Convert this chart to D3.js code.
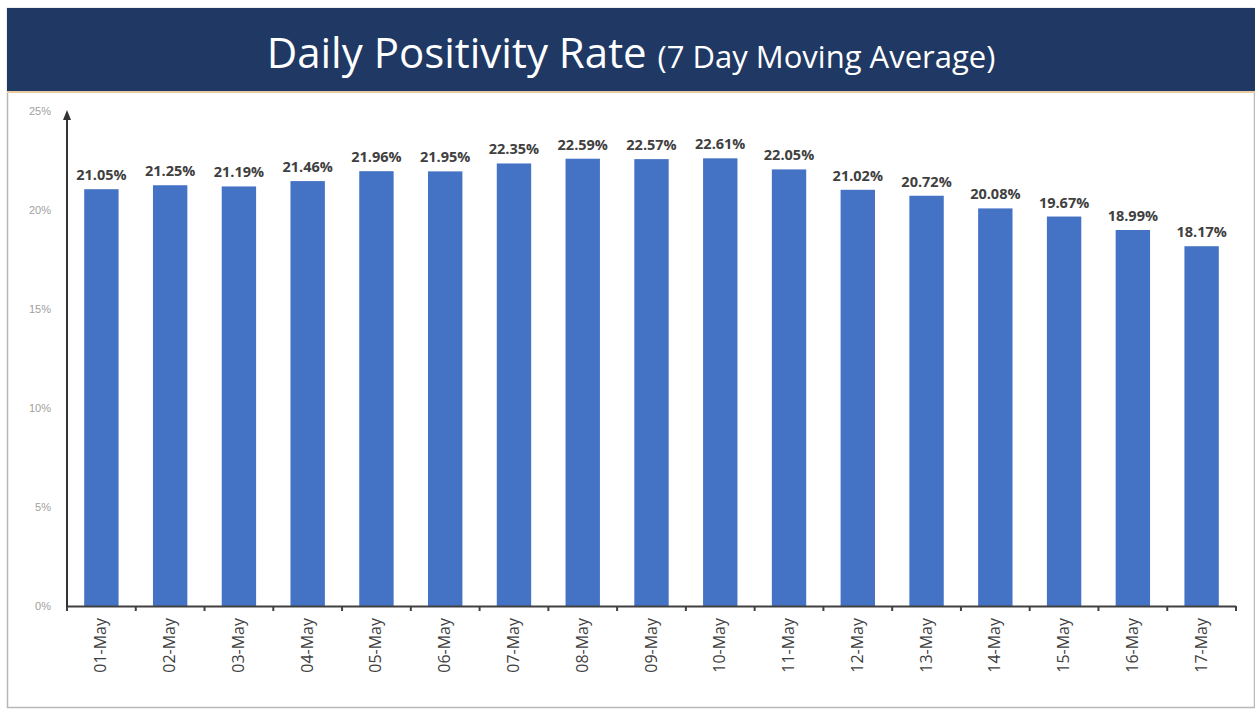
<!DOCTYPE html>
<html><head><meta charset="utf-8">
<script src="https://cdn.jsdelivr.net/npm/d3@7"></script>
<style>body{margin:0;background:#fff}svg{display:block}</style>
</head><body>
<script>
const categories = ["01-May","02-May","03-May","04-May","05-May","06-May","07-May","08-May","09-May","10-May","11-May","12-May","13-May","14-May","15-May","16-May","17-May"];
const values = [21.05,21.25,21.19,21.46,21.96,21.95,22.35,22.59,22.57,22.61,22.05,21.02,20.72,20.08,19.67,18.99,18.17];
const yTicks = [0,5,10,15,20,25];

const W = 1255, H = 709;
const svg = d3.select("body").append("svg").attr("width", W).attr("height", H);

// frame
svg.append("rect").attr("x",7.5).attr("y",8.5).attr("width",W-8).attr("height",H-10)
  .attr("fill","#fff").attr("stroke","#b8b8b8").attr("stroke-width",1.5);
// header
svg.append("rect").attr("x",7).attr("y",8).attr("width",W-7).attr("height",83).attr("fill","#1f3864");
svg.append("rect").attr("x",7).attr("y",91).attr("width",W-7).attr("height",2).attr("fill","#e8c9a0");
const t = svg.append("text").attr("x",631).attr("y",68).attr("text-anchor","middle")
  .attr("fill","#fff").style("font-family","'Open Sans', 'Liberation Sans', sans-serif");
t.append("tspan").attr("font-size",42).text("Daily Positivity Rate ");
t.append("tspan").attr("font-size",31).text("(7 Day Moving Average)");

const x = d3.scaleBand().domain(categories).range([67,1236]).paddingInner(0.5).paddingOuter(0.25);
const y = d3.scaleLinear().domain([0,25]).range([606,111]);

// y labels
svg.append("g").selectAll("text").data(yTicks).join("text")
  .attr("x",51).attr("y",d=>y(d)+4).attr("text-anchor","end")
  .attr("font-size",11).attr("fill","#a0a0a0").style("font-family","'Liberation Sans', sans-serif")
  .text(d=>d+"%");

// bars
svg.append("g").selectAll("rect").data(values).join("rect")
  .attr("x",(d,i)=>x(categories[i])).attr("width",x.bandwidth())
  .attr("y",d=>y(d)).attr("height",d=>y(0)-y(d)).attr("fill","#4472c4");

// value labels
svg.append("g").selectAll("text").data(values).join("text")
  .attr("x",(d,i)=>x(categories[i])+x.bandwidth()/2).attr("y",d=>y(d)-9)
  .attr("text-anchor","middle").attr("font-size",14.5).attr("font-weight","bold")
  .attr("fill","#404040").style("font-family","'Open Sans', 'Liberation Sans', sans-serif")
  .text(d=>d.toFixed(2)+"%");

// x axis
svg.append("line").attr("x1",67).attr("x2",1236).attr("y1",606.5).attr("y2",606.5).attr("stroke","#404040").attr("stroke-width",2);
const edges = d3.range(categories.length+1).map(i=>67 + i*(1236-67)/categories.length);
svg.append("g").selectAll("line").data(edges).join("line")
  .attr("x1",d=>d).attr("x2",d=>d).attr("y1",606).attr("y2",611).attr("stroke","#404040").attr("stroke-width",2);
svg.append("g").selectAll("text").data(categories).join("text")
  .attr("transform",d=>`translate(${x(d)+x.bandwidth()/2+5},618) rotate(-90)`)
  .attr("text-anchor","end").attr("font-size",16).attr("fill","#404040")
  .style("font-family","'Open Sans', 'Liberation Sans', sans-serif").text(d=>d);

// y axis with arrow
svg.append("line").attr("x1",67).attr("x2",67).attr("y1",607).attr("y2",117).attr("stroke","#333").attr("stroke-width",2);
svg.append("path").attr("d","M63,120 L67,110 L71,120 Z").attr("fill","#333");
</script>
</body></html>
